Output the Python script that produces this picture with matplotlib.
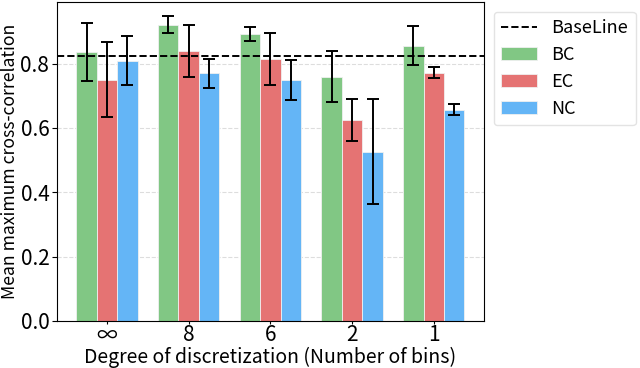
import matplotlib
matplotlib.use("Agg")
import matplotlib.pyplot as plt
import numpy as np

plt.rcParams['font.family'] = ['Noto Sans CJK JP', 'DejaVu Sans']

categories = ["∞", "8", "6", "2", "1"]
bc = [0.837, 0.921, 0.893, 0.759, 0.855]
bc_err_lo = [0.746, 0.896, 0.871, 0.681, 0.796]
bc_err_hi = [0.927, 0.949, 0.915, 0.840, 0.918]
ec = [0.750, 0.840, 0.814, 0.625, 0.771]
ec_err_lo = [0.635, 0.759, 0.734, 0.560, 0.756]
ec_err_hi = [0.868, 0.921, 0.896, 0.690, 0.790]
nc = [0.809, 0.771, 0.750, 0.526, 0.656]
nc_err_lo = [0.734, 0.725, 0.687, 0.364, 0.641]
nc_err_hi = [0.886, 0.815, 0.812, 0.690, 0.675]
baseline = 0.824

fig, ax = plt.subplots(figsize=(6.4, 3.68), dpi=100)
x = np.arange(len(categories))
w = 0.25
series = [("BC", bc, bc_err_lo, bc_err_hi, "#81c784"),
          ("EC", ec, ec_err_lo, ec_err_hi, "#e57373"),
          ("NC", nc, nc_err_lo, nc_err_hi, "#64b5f6")]
ax.set_axisbelow(True)
ax.yaxis.grid(True, linestyle='--', color='#dddddd', linewidth=0.8)
bl = ax.axhline(baseline, color='black', linestyle='--', linewidth=1.4, label='BaseLine', zorder=4)
for i, (name, vals, lo, hi, col) in enumerate(series):
    pos = x + (i - 1) * w
    vals = np.array(vals); lo = np.array(lo); hi = np.array(hi)
    ax.bar(pos, vals, w, color=col, edgecolor='#f0f0f0', linewidth=0.6, label=name, zorder=2)
    ax.errorbar(pos, vals, yerr=[vals - lo, hi - vals], fmt='none', ecolor='black',
                elinewidth=1.4, capsize=4.5, capthick=1.4, zorder=5)
ax.set_xticks(x)
ax.set_xticklabels(categories)
ax.set_ylim(0, 0.992)
ax.set_yticks([0.0, 0.2, 0.4, 0.6, 0.8])
ax.tick_params(labelsize=15)
ax.tick_params(axis='x', pad=0, length=2.5)
ax.tick_params(axis='y', pad=2)
ax.set_xlabel("Degree of discretization (Number of bins)", fontsize=14, labelpad=0)
ax.set_ylabel("Mean maximum cross-correlation", fontsize=12.7, labelpad=1)
ax.legend(loc='upper left', bbox_to_anchor=(1.0, 1.0), fontsize=13, frameon=True,
          edgecolor='#dddddd', borderaxespad=0.55)
fig.subplots_adjust(left=0.089, right=0.756, top=0.995, bottom=0.128)
fig.savefig("out.png", dpi=100)
